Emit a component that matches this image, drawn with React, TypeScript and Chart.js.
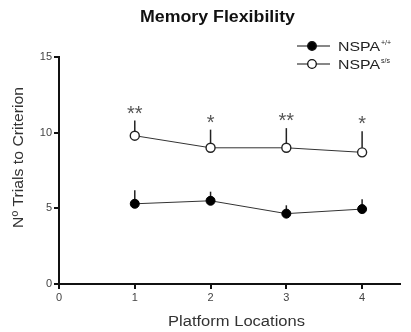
import React, { useEffect, useRef } from "react";
import { Chart, registerables } from "chart.js";

Chart.register(...registerables);

const title = "Memory Flexibility";
const xTitle = "Platform Locations";
const yTitle = "Nº Trials to Criterion";
const locations = [1, 2, 3, 4];
const wildValues = [5.3, 5.5, 4.65, 4.95];
const wildErr = [0.9, 0.6, 0.55, 0.65];
const mutantValues = [9.8, 9.0, 9.0, 8.7];
const mutantErr = [1.0, 1.2, 1.3, 1.4];
const stars = ["**", "*", "**", "*"];
const seriesNames = ["NSPA", "NSPA"];
const seriesSup = ["+/+", "s/s"];
const FONT = "'Liberation Sans', Arial, Helvetica, sans-serif";

function stretchedText(c: any, text: string, x: number, y: number, width: number) {
  const w = c.measureText(text).width;
  c.save();
  c.translate(x, y);
  c.scale(width / w, 1);
  c.fillText(text, 0, 0);
  c.restore();
}

export default function App() {
  const ref = useRef<HTMLCanvasElement | null>(null);
  useEffect(() => {
    document.body.style.margin = "0";
    const ctx = ref.current!.getContext("2d")!;
    const overlay = {
      id: "overlay",
      beforeDatasetsDraw(chart: any) {
        const c = chart.ctx;
        const xs = chart.scales.x;
        const ys = chart.scales.y;
        c.save();
        c.strokeStyle = "#222";
        c.lineWidth = 1.5;
        const bars = [
          [wildValues, wildErr],
          [mutantValues, mutantErr],
        ];
        bars.forEach(([vals, errs]) => {
          locations.forEach((loc, i) => {
            const px = xs.getPixelForValue(loc);
            c.beginPath();
            c.moveTo(px, ys.getPixelForValue(vals[i]));
            c.lineTo(px, ys.getPixelForValue(vals[i] + errs[i]));
            c.stroke();
          });
        });
        c.restore();
      },
      afterDraw(chart: any) {
        const c = chart.ctx;
        const xs = chart.scales.x;
        const ys = chart.scales.y;
        c.save();
        c.textBaseline = "middle";
        // chart title
        c.fillStyle = "#111";
        c.font = `bold 16px ${FONT}`;
        c.textAlign = "left";
        stretchedText(c, title, 140, 18, 155);
        // axis titles
        c.fillStyle = "#333";
        c.font = `14px ${FONT}`;
        stretchedText(c, xTitle, 168, 322, 137);
        c.save();
        c.translate(19, 228);
        c.rotate(-Math.PI / 2);
        stretchedText(c, yTitle, 0, 0, 141);
        c.restore();
        // stars
        c.fillStyle = "#555";
        c.font = `20px ${FONT}`;
        c.textAlign = "center";
        c.textBaseline = "alphabetic";
        locations.forEach((loc, i) => {
          const px = xs.getPixelForValue(loc);
          const py = ys.getPixelForValue(mutantValues[i] + mutantErr[i]) - 11;
          const m = c.measureText(stars[i]);
          const off = (m.actualBoundingBoxAscent - m.actualBoundingBoxDescent) / 2;
          c.fillText(stars[i], px, py + off);
        });
        // legend
        c.textBaseline = "middle";
        const rows = [46, 64];
        rows.forEach((y, i) => {
          c.strokeStyle = "#111";
          c.lineWidth = 1.2;
          c.beginPath();
          c.moveTo(297, y);
          c.lineTo(330, y);
          c.stroke();
          c.beginPath();
          c.arc(312, y, 4.3, 0, Math.PI * 2);
          c.fillStyle = i === 0 ? "#000" : "#fff";
          c.fill();
          c.lineWidth = 1.3;
          c.stroke();
          c.fillStyle = "#222";
          c.textAlign = "left";
          c.font = `13px ${FONT}`;
          stretchedText(c, seriesNames[i], 338, y + 1, 42);
          c.font = `7px ${FONT}`;
          c.fillText(seriesSup[i], 381, y - 3);
        });
        c.restore();
      },
    };
    const chart = new Chart(ctx, {
      type: "scatter",
      data: {
        datasets: [
          {
            label: "NSPA+/+",
            data: locations.map((x, i) => ({ x, y: wildValues[i] })),
            showLine: true,
            borderColor: "#333",
            borderWidth: 1,
            pointRadius: 4.5,
            pointBackgroundColor: "#000",
            pointBorderColor: "#000",
          },
          {
            label: "NSPAs/s",
            data: locations.map((x, i) => ({ x, y: mutantValues[i] })),
            showLine: true,
            borderColor: "#333",
            borderWidth: 1,
            pointRadius: 4.5,
            pointBackgroundColor: "#fff",
            pointBorderColor: "#222",
            pointBorderWidth: 1.4,
          },
        ],
      },
      options: {
        animation: false,
        responsive: false,
        layout: { padding: { left: 6, right: 11, top: 57, bottom: 4 } },
        plugins: { legend: { display: false }, tooltip: { enabled: false } },
        scales: {
          x: {
            type: "linear",
            min: 0,
            max: 4.5,
            afterBuildTicks: (s: any) => {
              s.ticks = s.ticks.filter((t: any) => Number.isInteger(t.value));
            },
            afterFit: (s: any) => {
              s.height = 44;
            },
            ticks: { stepSize: 1, color: "#444", font: { family: FONT, size: 11 }, padding: 2 },
            grid: { drawOnChartArea: false, drawTicks: true, tickLength: 5, tickColor: "#111", lineWidth: 2 },
            border: { display: true, color: "#111", width: 2 },
            title: { display: false },
          },
          y: {
            min: 0,
            max: 15,
            afterFit: (s: any) => {
              s.width = 53;
            },
            ticks: { stepSize: 5, color: "#444", font: { family: FONT, size: 11 }, padding: 2 },
            grid: { drawOnChartArea: false, drawTicks: true, tickLength: 5, tickColor: "#111", lineWidth: 2 },
            border: { display: true, color: "#111", width: 2 },
            title: { display: false },
          },
        },
      },
      plugins: [overlay],
    } as any);
    return () => chart.destroy();
  }, []);
  return <canvas ref={ref} width={411} height={332} style={{ display: "block" }} />;
}
